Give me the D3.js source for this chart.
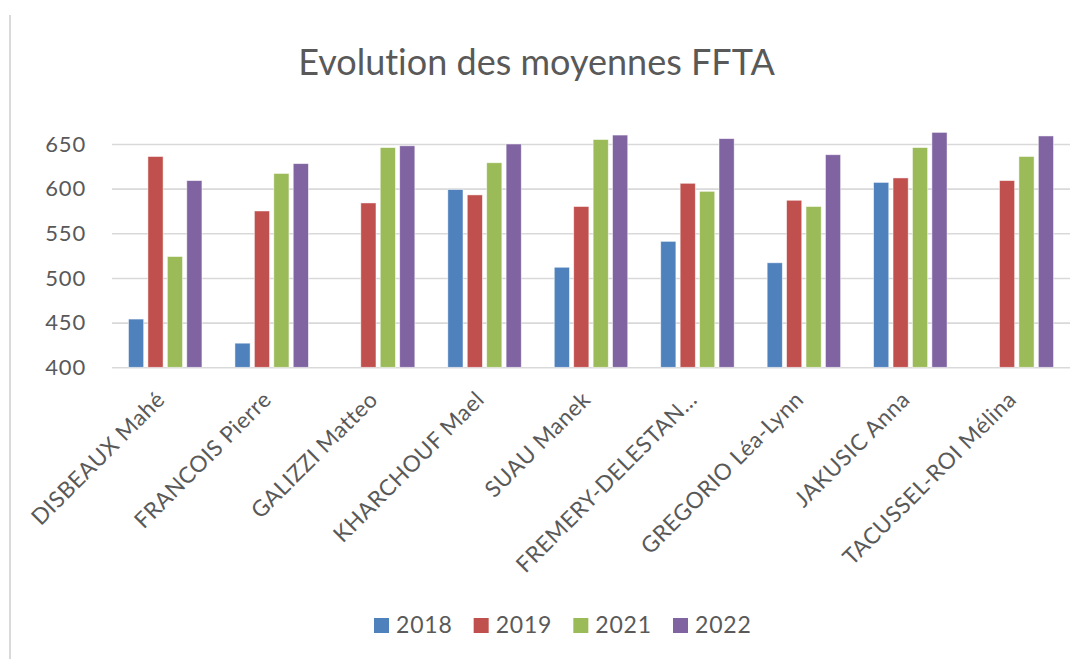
<!DOCTYPE html>
<html>
<head>
<meta charset="utf-8">
<script src="https://cdn.jsdelivr.net/npm/d3@7"></script>
<style>
  html, body { margin: 0; padding: 0; background: #fff; }
  svg { display: block; }
  svg text { font-family: Lato, "Open Sans", sans-serif; font-variant-ligatures: none; }
</style>
</head>
<body>
<svg id="chart" width="1091" height="659"></svg>
<script>
const title = "Evolution des moyennes FFTA";
const categories = ["DISBEAUX Mahé", "FRANCOIS Pierre", "GALIZZI Matteo", "KHARCHOUF Mael", "SUAU Manek", "FREMERY-DELESTAN…", "GREGORIO Léa-Lynn", "JAKUSIC Anna", "TACUSSEL-ROI Mélina"];
const years = ["2018", "2019", "2021", "2022"];
const v2018 = [454, 427, null, 599, 512, 541, 517, 607, null];
const v2019 = [636, 575, 584, 593, 580, 606, 587, 612, 609];
const v2021 = [524, 617, 646, 629, 655, 597, 580, 646, 636];
const v2022 = [609, 628, 648, 650, 660, 656, 638, 663, 659];
const yTicks = [400, 450, 500, 550, 600, 650];
const colors = ["#4f81bd", "#c0504d", "#9bbb59", "#8064a2"];

const seriesValues = [v2018, v2019, v2021, v2022];
const table = categories.map((c, i) => ({ name: c, values: years.map((y, k) => ({ year: y, value: seriesValues[k][i] })) }));

const svg = d3.select("#chart");
const textColor = "#595959";

// outer left border
svg.append("line").attr("x1", 10).attr("x2", 10).attr("y1", 15).attr("y2", 659)
  .attr("stroke", "#d9d9d9").attr("stroke-width", 2);

const x0 = d3.scaleBand().domain(categories).range([112, 1070]).paddingInner(0.31).paddingOuter(0.155);
const x1 = d3.scaleBand().domain(years).range([0, x0.bandwidth()]).paddingInner(0.22);
const y = d3.scaleLinear().domain([400, 650]).range([367.3, 144]);
const color = d3.scaleOrdinal().domain(years).range(colors);

// gridlines
const yAxis = d3.axisLeft(y).tickValues(yTicks).tickSize(-(1070 - 112)).tickPadding(26);
const gy = svg.append("g").attr("transform", "translate(112,0)").call(yAxis);
gy.attr("font-family", null);
gy.select(".domain").remove();
gy.selectAll(".tick line").attr("stroke", "#d9d9d9").attr("stroke-width", 1.6);
gy.selectAll(".tick text").attr("fill", textColor).style("font-size", "22px").style("letter-spacing", "0.8px");

// bars
const groups = svg.append("g").selectAll("g").data(table).join("g")
  .attr("transform", d => `translate(${x0(d.name)},0)`);
groups.selectAll("rect").data(d => d.values.filter(v => v.value != null)).join("rect")
  .attr("x", d => x1(d.year))
  .attr("width", x1.bandwidth())
  .attr("y", d => y(d.value))
  .attr("height", d => y(400) - y(d.value))
  .attr("fill", d => color(d.year))
  .attr("stroke", "#ffffff").attr("stroke-width", 0.8).attr("stroke-opacity", 0.6);

// x axis labels
const xAxis = d3.axisBottom(x0).tickSize(0).tickPadding(0);
const gx = svg.append("g").attr("transform", "translate(0,382)").call(xAxis);
gx.attr("font-family", null);
gx.select(".domain").remove();
gx.selectAll(".tick text")
  .attr("fill", textColor)
  .style("font-size", "22.5px")
  .style("letter-spacing", "0.5px")
  .attr("text-anchor", "end")
  .attr("dy", "0")
  .attr("transform", "translate(1,19) rotate(-45)");

// title
svg.append("text").attr("x", 536.5).attr("y", 75).attr("text-anchor", "middle")
  .attr("fill", textColor).style("font-size", "36px").text(title);

// legend
const legendX = d3.scalePoint().domain(years).range([374, 673]);
const lg = svg.append("g").selectAll("g").data(years).join("g")
  .attr("transform", d => `translate(${legendX(d)},625)`);
lg.append("rect").attr("x", 0).attr("y", -7).attr("width", 15).attr("height", 15).attr("fill", d => color(d));
lg.append("text").attr("x", 22).attr("y", 0).attr("dy", "0.35em")
  .attr("fill", textColor).style("font-size", "23px").style("letter-spacing", "0.8px").text(d => d);
</script>
</body>
</html>
